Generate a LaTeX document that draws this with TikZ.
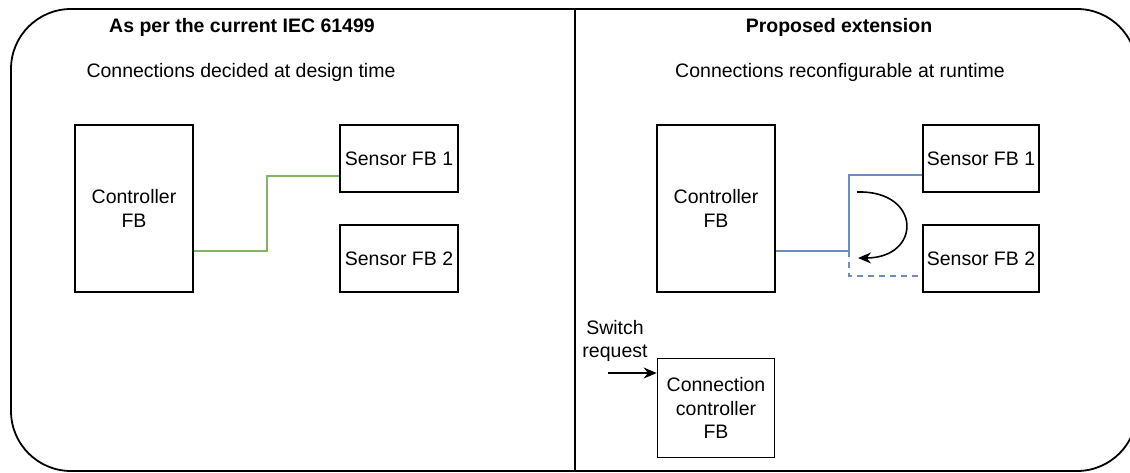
\documentclass[tikz,border=0pt]{standalone}
\usepackage{fontspec}
\setmainfont{Liberation Sans}
\usetikzlibrary{arrows.meta,calc}
\definecolor{drgreen}{HTML}{82B366}
\definecolor{drblue}{HTML}{6C8EBF}
\tikzset{
  fbbox/.style={draw=black, line width=1.6pt, align=center, inner sep=0pt,
    font=\fontsize{19.5}{23.5}\selectfont},
  lbl/.style={align=center, inner sep=0pt, font=\fontsize{19.5}{23.5}\selectfont},
  ttl/.style={inner sep=0pt, font=\fontsize{19.5}{23.5}\selectfont\bfseries},
  greenwire/.style={draw=drgreen, line width=2pt},
  bluewire/.style={draw=drblue, line width=2pt},
  arr/.style={-{Stealth[length=13pt,width=11pt]}, line width=1.6pt}
}
\begin{document}
\begin{tikzpicture}[x=1pt,y=-1pt]
\useasboundingbox (0,0) rectangle (1130,472);
\clip (0,0) rectangle (1130,472);
\fill[white] (0,0) rectangle (1130,472);
% frame
\draw[line width=1.8pt, rounded corners=60pt] (11,9) rectangle (1137,471);
\coordinate (divtop) at (575,9);
\coordinate (divbot) at (575,471);
\draw[line width=1.6pt] (divtop) -- (divbot);
% titles
\node[ttl] (t1) at (242,27) {As per the current IEC 61499};
\node[ttl] (t2) at (839,27) {Proposed extension};
\node[lbl] (s1) at (241,72) {Connections decided at design time};
\node[lbl] (s2) at (840,72) {Connections reconfigurable at runtime};
% left side
\node[fbbox, minimum width=118pt, minimum height=167pt] (ctrlL) at (134,208.5) {Controller\\FB};
\node[fbbox, minimum width=118pt, minimum height=67pt] (s1L) at (399,158.5) {Sensor FB 1};
\node[fbbox, minimum width=118pt, minimum height=67pt] (s2L) at (399,258.5) {Sensor FB 2};
\coordinate (gbend) at (267,212);
\draw[greenwire] ([yshift=-42pt]ctrlL.east) -| (gbend) |- ([yshift=-17pt]s1L.west);
% right side
\node[fbbox, minimum width=118pt, minimum height=167pt] (ctrlR) at (716,208.5) {Controller\\FB};
\node[fbbox, minimum width=116pt, minimum height=67pt] (s1R) at (981,158.5) {Sensor FB 1};
\node[fbbox, minimum width=116pt, minimum height=67pt] (s2R) at (981,258.5) {Sensor FB 2};
\coordinate (bjoin) at (849,250.5);
\draw[bluewire] ([yshift=-42pt]ctrlR.east) -- (bjoin) |- ([yshift=-16pt]s1R.west);
\draw[bluewire, dashed, dash pattern=on 6pt off 5pt] (bjoin) |- ([yshift=-17pt]s2R.west);
\coordinate (cvstart) at (857,192);
\coordinate (cvend) at (858,258);
\draw[arr] (cvstart) .. controls (922,190) and (922,258) .. (cvend);
% connection controller
\node[fbbox, minimum width=117pt, minimum height=99pt] (cc) at (716,408) {Connection\\controller\\FB};
\node[lbl] (sw) at (615,341) {Switch\\request};
\coordinate (swin) at (608,373);
\draw[arr] (swin) -- (cc.west |- swin);
\end{tikzpicture}
\end{document}
